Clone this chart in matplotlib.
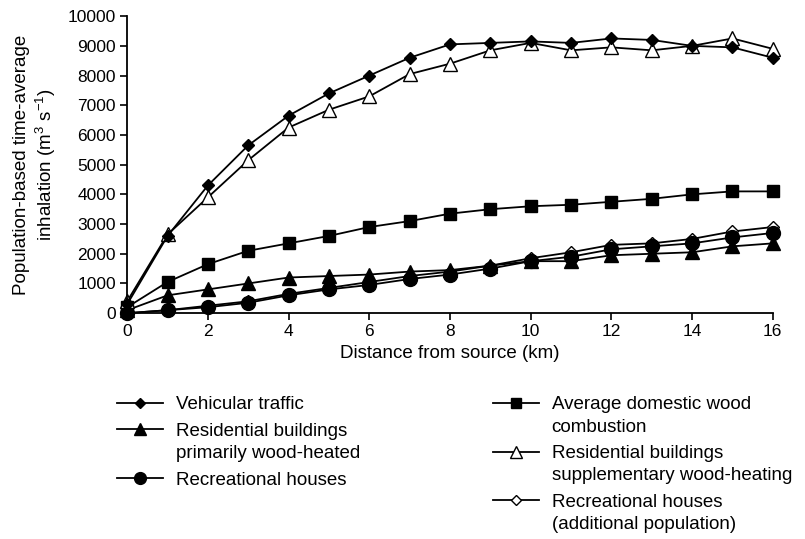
import numpy as np
import matplotlib
matplotlib.use("Agg")
import matplotlib.pyplot as plt
from matplotlib.legend_handler import HandlerLine2D

plt.rcParams["font.family"] = ["Liberation Sans", "DejaVu Sans"]
plt.rcParams["mathtext.default"] = "regular"

distance = list(range(0, 17))
vehicular = [300, 2600, 4300, 5650, 6650, 7400, 8000, 8600, 9050, 9100, 9150, 9100, 9250, 9200, 9000, 8950, 8600]
avg_wood = [200, 1050, 1650, 2100, 2350, 2600, 2900, 3100, 3350, 3500, 3600, 3650, 3750, 3850, 4000, 4100, 4100]
res_primary = [100, 600, 800, 1000, 1200, 1250, 1300, 1400, 1450, 1600, 1750, 1750, 1950, 2000, 2050, 2250, 2350]
res_supp = [400, 2650, 3900, 5150, 6250, 6850, 7300, 8050, 8400, 8850, 9100, 8850, 8950, 8850, 9000, 9250, 8900]
recreational = [0, 100, 200, 350, 600, 800, 950, 1150, 1300, 1500, 1750, 1900, 2150, 2250, 2350, 2550, 2700]
recr_additional = [0, 100, 250, 400, 650, 850, 1050, 1250, 1400, 1600, 1850, 2050, 2300, 2350, 2500, 2750, 2900]

labels = ["Vehicular traffic",
          "Residential buildings\nprimarily wood-heated",
          "Recreational houses",
          "Average domestic wood\ncombustion",
          "Residential buildings\nsupplementary wood-heating",
          "Recreational houses\n(additional population)"]


class FirstLineHandler(HandlerLine2D):
    # put the legend glyph next to the first text line
    def create_artists(self, legend, orig_handle, xdescent, ydescent,
                       width, height, fontsize, trans):
        arts = super().create_artists(legend, orig_handle, xdescent, ydescent,
                                      width, height, fontsize, trans)
        n = orig_handle.get_label().count("\n")
        for a in arts:
            a.set_ydata(np.asarray(a.get_ydata(), float) + 0.7 * fontsize * n)
        return arts


fig = plt.figure(figsize=(8.05, 5.39), dpi=100)
ax = fig.add_axes([0.158, 0.419, 0.802, 0.551])

lw = 1.3
kw = dict(color="black", lw=lw, clip_on=False, markeredgewidth=1.0)
l_rec_add = ax.plot(distance, recr_additional, marker="D", ms=6, mfc="white", mec="black", label=labels[5], **kw)[0]
l_rec = ax.plot(distance, recreational, marker="o", ms=10, mfc="black", label=labels[2], **kw)[0]
l_prim = ax.plot(distance, res_primary, marker="^", ms=9.5, mfc="black", label=labels[1], **kw)[0]
l_avg = ax.plot(distance, avg_wood, marker="s", ms=9, mfc="black", label=labels[3], **kw)[0]
l_supp = ax.plot(distance, res_supp, marker="^", ms=9.5, mfc="white", mec="black", label=labels[4], **kw)[0]
l_veh = ax.plot(distance, vehicular, marker="D", ms=6, mfc="black", label=labels[0], **kw)[0]

ax.set_xlim(0, 16)
ax.set_ylim(0, 10000)
ax.set_xticks(range(0, 17, 2))
ax.set_yticks(range(0, 10001, 1000))
for s in ["top", "right"]:
    ax.spines[s].set_visible(False)
for s in ["left", "bottom"]:
    ax.spines[s].set_linewidth(1.3)
ax.tick_params(labelsize=12.5, width=1.2, length=5, direction="out", pad=3)
ax.set_xlabel("Distance from source (km)", fontsize=13.5, labelpad=4)
ax.set_ylabel("Population-based time-average\ninhalation (m$^{3}$ s$^{-1}$)", fontsize=13.5, labelpad=7)

leg_kw = dict(frameon=False, fontsize=13.5, handlelength=2.45, handletextpad=0.7,
              labelspacing=0.5, borderaxespad=0, borderpad=0,
              handler_map={matplotlib.lines.Line2D: FirstLineHandler()})
leg1 = fig.legend([l_veh, l_prim, l_rec], [labels[0], labels[1], labels[2]],
                  loc="upper left", bbox_to_anchor=(0.145, 0.265), **leg_kw)
leg2 = fig.legend([l_avg, l_supp, l_rec_add], [labels[3], labels[4], labels[5]],
                  loc="upper left", bbox_to_anchor=(0.612, 0.265), **leg_kw)
for leg in (leg1, leg2):
    for t in leg.get_texts():
        t.set_linespacing(1.42)
    for h in leg.legend_handles:
        h.set_markersize(h.get_markersize() * 0.85)

fig.savefig("out.png", dpi=100)
